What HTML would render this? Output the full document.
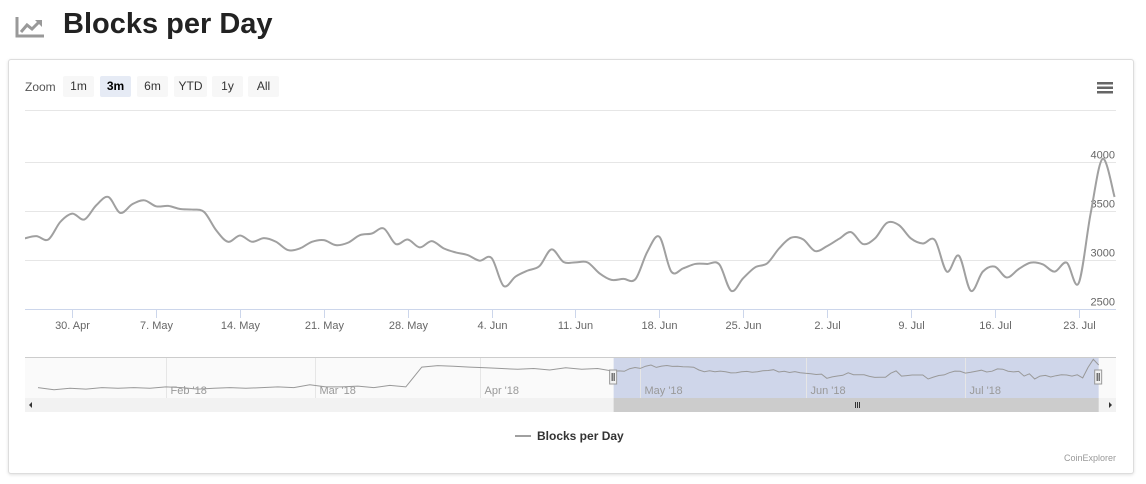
<!DOCTYPE html>
<html><head><meta charset="utf-8">
<style>
body{margin:0;width:1146px;height:484px;background:#fff;font-family:"Liberation Sans",sans-serif;position:relative;overflow:hidden}
.title{position:absolute;left:63px;top:8px;font-size:29px;font-weight:bold;color:#222}
.card{position:absolute;left:8px;top:59px;width:1124px;height:413px;border:1px solid #ddd;border-radius:3px;box-shadow:0 1px 3px rgba(0,0,0,.12);background:#fff}
.btn{position:absolute;top:76px;height:21px;line-height:21px;font-size:12px;color:#333;background:#f7f7f7;text-align:center;border-radius:2px}
</style></head><body>
<svg style="position:absolute;left:15px;top:15px" width="31" height="24" viewBox="0 0 31 24"><path d="M2 2V21H29" stroke="#999" stroke-width="3" fill="none"/><path d="M6 17L12 10L17 14L25 6" stroke="#999" stroke-width="3" fill="none"/><path d="M20 5H27V12Z" fill="#999"/></svg>
<div class="title">Blocks per Day</div>
<div class="card"></div>
<div style="position:absolute;left:25px;top:80px;font-size:12px;color:#555">Zoom</div>
<div class="btn" style="left:63px;width:31px">1m</div>
<div class="btn" style="left:100px;width:31px;background:#e6ebf5;font-weight:bold;color:#000">3m</div>
<div class="btn" style="left:137px;width:31px">6m</div>
<div class="btn" style="left:174px;width:33px">YTD</div>
<div class="btn" style="left:212px;width:31px">1y</div>
<div class="btn" style="left:248px;width:31px">All</div>
<svg style="position:absolute;left:1097px;top:81px" width="17" height="13"><rect y="1" width="16" height="2.5" fill="#666"/><rect y="5.5" width="16" height="2.5" fill="#666"/><rect y="10" width="16" height="2.5" fill="#666"/></svg>
<svg id="chart" style="position:absolute;left:0;top:0" width="1146" height="484"></svg>
<script>
const mainValues=[3219,3242,3208,3387,3471,3411,3556,3640,3478,3566,3606,3545,3549,3518,3512,3488,3303,3185,3249,3185,3222,3185,3101,3118,3185,3202,3151,3175,3252,3269,3320,3162,3208,3128,3192,3118,3077,3050,2993,3020,2737,2832,2892,2939,3108,2980,2976,2976,2865,2798,2808,2805,3084,3236,2882,2916,2960,2960,2956,2687,2815,2926,2966,3118,3226,3209,3091,3141,3215,3283,3162,3219,3377,3354,3219,3168,3202,2882,3044,2687,2882,2933,2822,2909,2973,2956,2882,2973,2764,3471,4027,3640];
const navEarly=[2100,1950,2050,2000,2100,2050,2100,2050,2150,2100,2000,2050,2100,2050,2100,2150,2100,2300,2150,2150,2200,2100,2250,2150,3500,3600,3550,3500,3450,3400,3350,3400,3300,3450,3350,3400];
const yTicks=[2500,3000,3500,4000];
const xTickLabels=["30. Apr","7. May","14. May","21. May","28. May","4. Jun","11. Jun","18. Jun","25. Jun","2. Jul","9. Jul","16. Jul","23. Jul"];
const xTickDays=[4,11,18,25,32,39,46,53,60,67,74,81,88];
const navLabels=["Feb '18","Mar '18","Apr '18","May '18","Jun '18","Jul '18"];
const navLabelDays=[24,52,83,113,144,174];
const NS="http://www.w3.org/2000/svg",svg=document.getElementById('chart');
function mk(t,a,p){const e=document.createElementNS(NS,t);for(const k in a)e.setAttribute(k,a[k]);(p||svg).appendChild(e);return e;}
const X=d=>24.4+d*11.98, Y=v=>260-(v-3000)*0.0985;
function smooth(pts){let d="M"+pts[0][0]+","+pts[0][1];for(let i=0;i<pts.length-1;i++){const p0=pts[i-1]||pts[i],p1=pts[i],p2=pts[i+1],p3=pts[i+2]||p2;const c1x=p1[0]+(p2[0]-p0[0])/6,c1y=p1[1]+(p2[1]-p0[1])/6,c2x=p2[0]-(p3[0]-p1[0])/6,c2y=p2[1]-(p3[1]-p1[1])/6;d+=` C${c1x},${c1y} ${c2x},${c2y} ${p2[0]},${p2[1]}`;}return d;}
let e=mk('line',{x1:25,x2:1116,y1:110.5,y2:110.5,stroke:'#e6e6e6'});

yTicks.forEach(v=>{const y=Math.round(Y(v))+.5;
 const g=mk('line',{x1:25,x2:1116,y1:y,y2:y,stroke:v===2500?'#ccd6eb':'#e6e6e6'});
 
 const t=mk('text',{x:1115,y:y-4,'text-anchor':'end','font-size':11,fill:'#666'});t.textContent=v;
 });
xTickDays.forEach((d,i)=>{const x=Math.round(X(d))+.5;
 const k=mk('line',{x1:x,x2:x,y1:310,y2:318,stroke:'#ccd6eb'});
 const t=mk('text',{x:x,y:329,'text-anchor':'middle','font-size':11,fill:'#666'});t.textContent=xTickLabels[i];
 });
const cp=mk('clipPath',{id:'cp'});mk('rect',{x:25,y:110,width:1091,height:210},cp);
const line=mk('path',{d:smooth(mainValues.map((v,i)=>[X(i),Y(v)])),fill:'none',stroke:'#a0a0a0','stroke-width':2,'clip-path':'url(#cp)'});

// navigator
const NX=d=>38+d*5.33, NY=v=>392-(v-1800)/2250*33;
const navAll=[];navEarly.forEach((v,i)=>navAll.push([NX(i*3),NY(v)]));mainValues.forEach((v,i)=>navAll.push([NX(108+i),NY(v)]));
e=mk('rect',{x:25,y:358,width:1091,height:40,fill:'#fafafa'});
e=mk('line',{x1:25,x2:1116,y1:357.5,y2:357.5,stroke:'#ccc'});
const s0=NX(108),s1=NX(108+mainValues.length-1);
e=mk('rect',{x:s0,y:358,width:s1-s0,height:40,fill:'#cfd6ea'});
navLabelDays.forEach((d,i)=>{const x=Math.round(NX(d))+.5;
 const k=mk('line',{x1:x,x2:x,y1:358,y2:398,stroke:'#e6e6e6'});
 const t=mk('text',{x:x+4,y:394,'font-size':11,fill:'#999'});t.textContent=navLabels[i];
 });
e=mk('path',{d:'M'+navAll.map(p=>p[0].toFixed(1)+','+p[1].toFixed(1)).join('L'),fill:'none',stroke:'#999','stroke-width':1});

[s0,s1].forEach((x,i)=>{const g=mk('g',{});
 mk('rect',{x:x-4,y:370,width:7,height:14,fill:'#f2f2f2',stroke:'#999'},g);mk('line',{x1:x-1.5,x2:x-1.5,y1:373,y2:381,stroke:'#333'},g);mk('line',{x1:x+.5,x2:x+.5,y1:373,y2:381,stroke:'#333'},g);});
e=mk('rect',{x:25,y:398,width:1091,height:14,fill:'#f2f2f2'});
e=mk('rect',{x:s0,y:398,width:s1-s0,height:14,fill:'#ccc'});
[855,857,859].forEach(x=>mk('line',{x1:x+.5,x2:x+.5,y1:402,y2:408,stroke:'#333'}));
e=mk('path',{d:'M32,402L29,405L32,408Z',fill:'#333'});
e=mk('path',{d:'M1109,402L1112,405L1109,408Z',fill:'#333'});
const lg=mk('g',{});
mk('line',{x1:515,x2:531,y1:436,y2:436,stroke:'#a0a0a0','stroke-width':2},lg);
const lt=mk('text',{x:537,y:440,'font-size':12,'font-weight':'bold',fill:'#333'},lg);lt.textContent='Blocks per Day';
e=mk('text',{x:1116,y:461,'text-anchor':'end','font-size':9,fill:'#999'});e.textContent='CoinExplorer';

</script>
</body></html>
